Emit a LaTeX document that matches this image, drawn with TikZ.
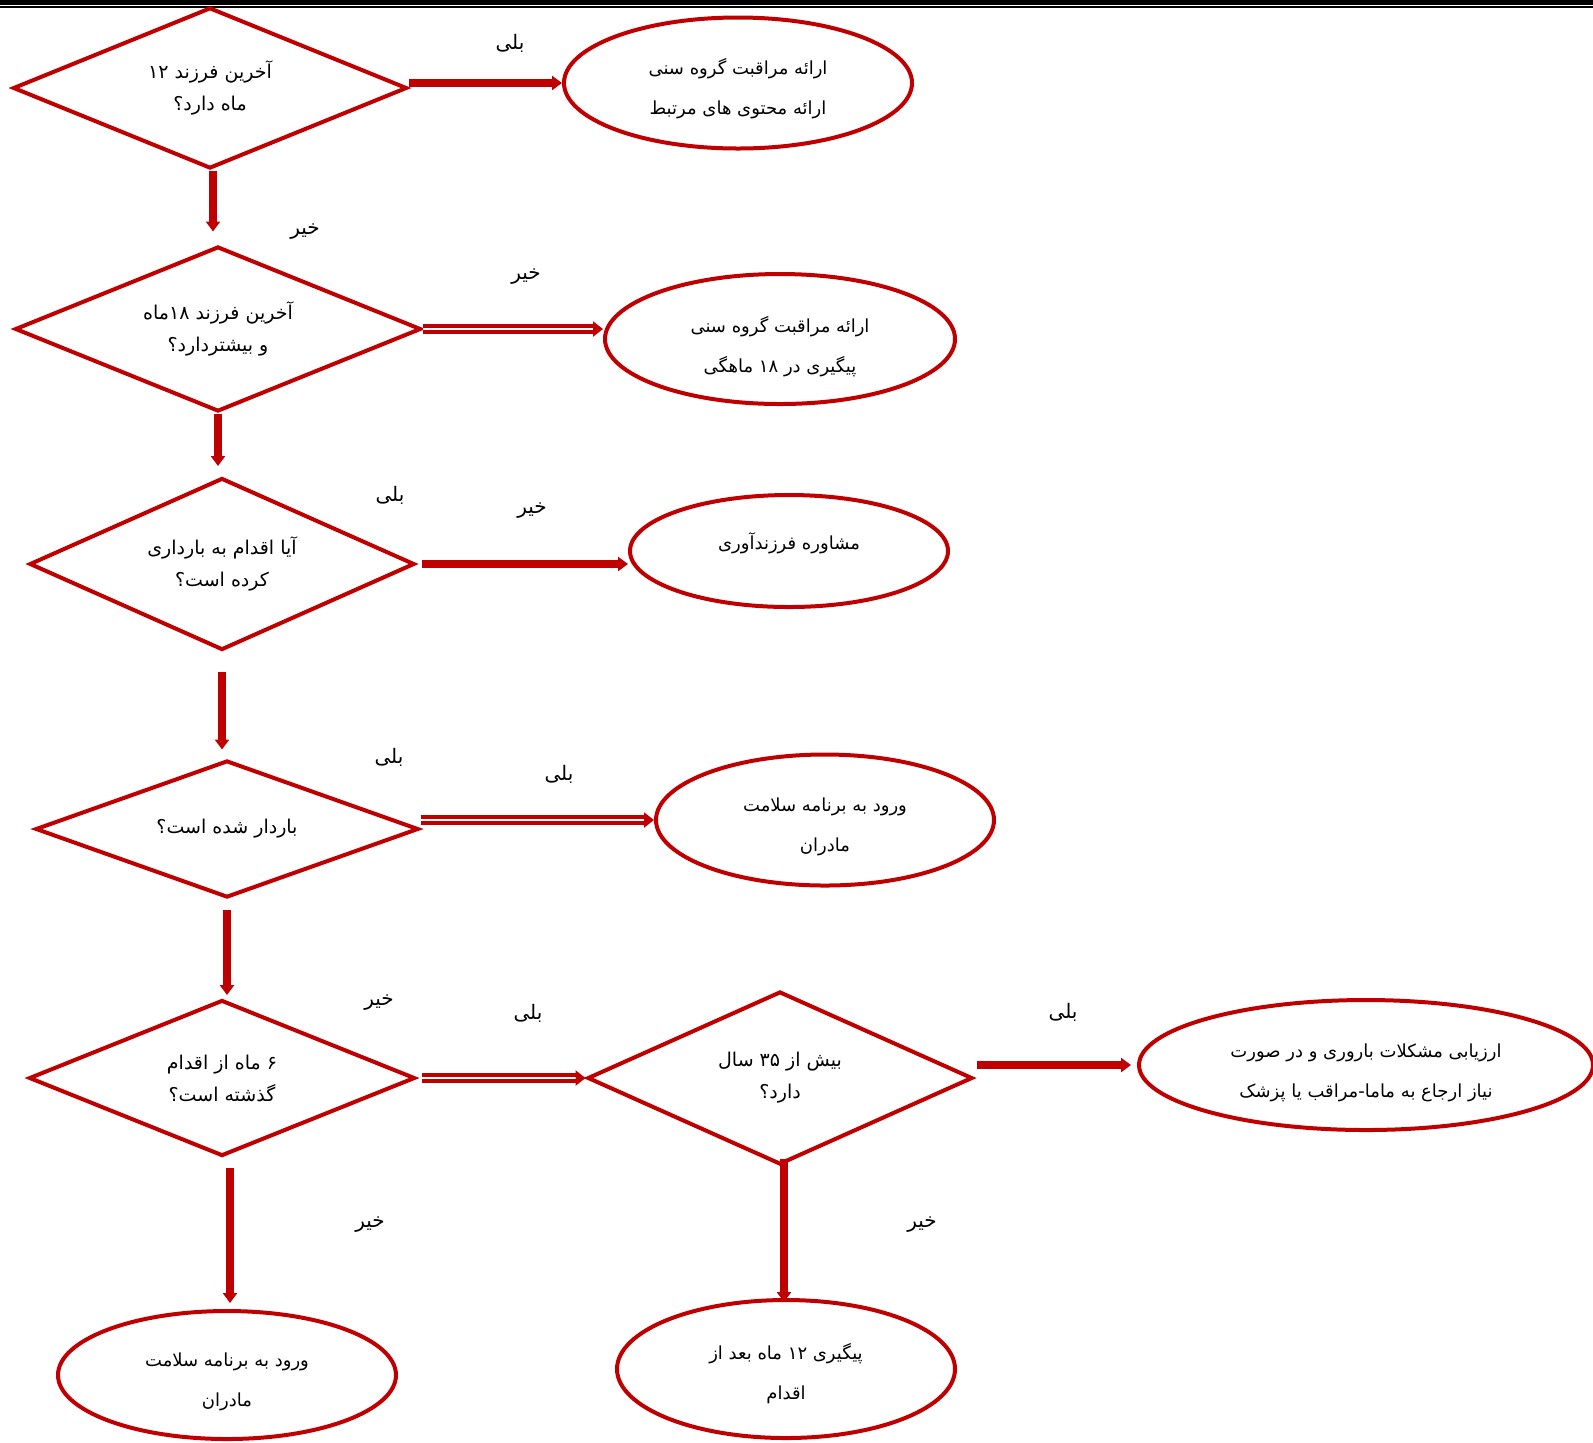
\documentclass[tikz,border=0pt]{standalone}
\usepackage{fontspec}
\usetikzlibrary{shapes.geometric,arrows.meta}
\newfontfamily\fa[Script=Arabic]{DejaVu Sans}
\TeXXeTstate=1
\newcommand\rl[1]{\beginR #1\endR}
\definecolor{dred}{HTML}{C00000}
\tikzset{
 dia/.style={diamond, draw=dred, line width=2pt, inner sep=0pt, shape aspect=2.4,
   font=\fa\fontsize{9.5}{16}\selectfont, align=center},
 ell/.style={ellipse, draw=dred, line width=2pt, inner sep=0pt},
 etxt/.style={font=\fa\fontsize{9}{20}\selectfont, align=center, inner sep=0pt},
 arr/.style={draw=dred, line width=4pt, -{Triangle[length=5pt,width=7pt]}},
 darr/.style={draw=dred, line width=1.8pt, double=white, double distance=1.1pt,
   -{Triangle[length=5pt,width=7.5pt]}},
 lbl/.style={font=\fa\fontsize{10}{12}\selectfont, inner sep=1pt},
}
\begin{document}
\begin{tikzpicture}[x=0.5pt,y=-0.5pt]
\useasboundingbox (0,0) rectangle (1593,1442);
\fill[white] (0,0) rectangle (1593,1442);
\fill[black] (0,0) rectangle (1593,4.5);
\fill[black] (0,6) rectangle (1593,8);

% diamonds
\node[dia, minimum width=197pt, minimum height=80.5pt] (d1) at (210,88) {\rl{آخرین فرزند ۱۲}\\ \rl{ماه دارد؟}};
\node[dia, minimum width=203pt, minimum height=82.5pt] (d2) at (218,329) {\rl{آخرین فرزند ۱۸ماه}\\ \rl{و بیشتردارد؟}};
\node[dia, minimum width=192.5pt, minimum height=86pt] (d3) at (222,564) {\rl{آیا اقدام به بارداری}\\ \rl{کرده است؟}};
\node[dia, minimum width=191.5pt, minimum height=68.5pt] (d4) at (227,829) {\rl{باردار شده است؟}};
\node[dia, minimum width=193pt, minimum height=78pt] (d5) at (222,1078) {\rl{۶ ماه از اقدام}\\ \rl{گذشته است؟}};
\node[dia, minimum width=192.5pt, minimum height=86.5pt] (d6) at (780,1078) {\rl{بیش از ۳۵ سال}\\ \rl{دارد؟}};

% ellipses
\node[ell, minimum width=174pt, minimum height=65.5pt] (e1) at (738,83) {};
\node[ell, minimum width=175pt, minimum height=65pt] (e2) at (780,339) {};
\node[ell, minimum width=159pt, minimum height=56pt] (e3) at (789,551) {};
\node[ell, minimum width=169pt, minimum height=65.5pt] (e4) at (825,820) {};
\node[ell, minimum width=227pt, minimum height=65pt] (e6) at (1366,1065) {};
\node[ell, minimum width=169pt, minimum height=69pt] (e7) at (786,1369) {};
\node[ell, minimum width=169pt, minimum height=64pt] (e8) at (227,1375) {};

% ellipse texts
\node[etxt] (t1) at ([yshift=-3pt]e1.center) {\rl{ارائه مراقبت گروه سنی}\\ \rl{ارائه محتوی های مرتبط}};
\node[etxt] (t2) at ([yshift=-4pt]e2.center) {\rl{ارائه مراقبت گروه سنی}\\ \rl{پیگیری در ۱۸ ماهگی}};
\node[etxt] (t3) at ([yshift=4pt]e3.center) {\rl{مشاوره فرزندآوری}};
\node[etxt] (t4) at ([yshift=-3.5pt]e4.center) {\rl{ورود به برنامه سلامت}\\ \rl{مادران}};
\node[etxt] (t6) at ([yshift=-4pt]e6.center) {\rl{ارزیابی مشکلات باروری و در صورت}\\ \rl{نیاز ارجاع به ماما-مراقب یا پزشک}};
\node[etxt] (t7) at ([yshift=-2.5pt]e7.center) {\rl{پیگیری ۱۲ ماه بعد از}\\ \rl{اقدام}};
\node[etxt] (t8) at ([yshift=-3.5pt]e8.center) {\rl{ورود به برنامه سلامت}\\ \rl{مادران}};

% horizontal connectors
\draw[arr] (e1.west -| d1.east) -- (e1.west);
\draw[darr] (d2.east) -- (d2.east -| e2.west);
\draw[arr, shorten <=2.5pt] (d3.east) -- (d3.east -| e3.west);
\draw[darr] (e4.west -| d4.east) -- (e4.west);
\draw[darr, shorten <=2.5pt] (d5.east) -- (d6.west);
\draw[arr, shorten <=1pt, shorten >=3pt] (e6.west -| d6.east) -- (e6.west);

% vertical connectors
\draw[arr, shorten >=6.5pt] ([xshift=1.5pt]d1.south) -- ([xshift=1.5pt]d1.south |- d2.north);
\draw[arr, shorten >=5pt] (d2.south) -- (d2.south |- d3.north);
\draw[arr, shorten <=10pt, shorten >=4.5pt] (d3.south) -- (d3.south |- d4.north);
\draw[arr, shorten <=5pt, shorten >=1.5pt] (d4.south) -- (d4.south |- d5.north);
\draw[arr, shorten <=5pt, shorten >=3pt] ([xshift=4pt]d5.south) -- ([xshift=4pt]d5.south |- e8.north);
\draw[arr, shorten <=-4pt, shorten >=-2pt] ([xshift=2pt]d6.south) -- ([xshift=2pt]d6.south |- e7.north);

% labels
\node[lbl] (l1) at (510,43) {\rl{بلی}};
\node[lbl] (l2) at (305,232) {\rl{خیر}};
\node[lbl] (l3) at (526,277) {\rl{خیر}};
\node[lbl] (l4) at (390,495) {\rl{بلی}};
\node[lbl] (l5) at (532,511) {\rl{خیر}};
\node[lbl] (l6) at (389,757) {\rl{بلی}};
\node[lbl] (l7) at (559,774) {\rl{بلی}};
\node[lbl] (l8) at (379,1003) {\rl{خیر}};
\node[lbl] (l9) at (528,1013) {\rl{بلی}};
\node[lbl] (l10) at (1063,1012) {\rl{بلی}};
\node[lbl] (l11) at (922,1225) {\rl{خیر}};
\node[lbl] (l12) at (370,1225) {\rl{خیر}};
\end{tikzpicture}
\end{document}
